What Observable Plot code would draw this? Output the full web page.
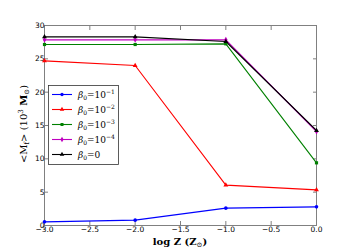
<!DOCTYPE html>
<html><head><meta charset="utf-8">
<script src="https://cdn.jsdelivr.net/npm/d3@7"></script>
<script src="https://cdn.jsdelivr.net/npm/@observablehq/plot@0.6"></script>
<style>body{margin:0;background:#fff}</style>
</head><body><div id="chart"></div>
<script>
const logZ = [-3.0, -2.0, -1.0, 0.0];
const seriesNames = ["β₀=10⁻¹", "β₀=10⁻²", "β₀=10⁻³", "β₀=10⁻⁴", "β₀=0"];
const seriesColors = ["#0000ff", "#ff0000", "#008000", "#bf00bf", "#000000"];
const seriesSymbols = ["circle", "triangle", "square", "diamond", "triangle"];
const beta1 = [0.55, 0.8, 2.6, 2.8];
const beta2 = [24.7, 24.0, 6.05, 5.35];
const beta3 = [27.15, 27.15, 27.25, 9.4];
const beta4 = [27.85, 27.85, 27.85, 14.1];
const beta0 = [28.3, 28.3, 27.6, 14.25];
const xTicks = [-3.0, -2.5, -2.0, -1.5, -1.0, -0.5, 0.0];
const yTicks = [0, 5, 10, 15, 20, 25, 30];

const allSeries = [beta1, beta2, beta3, beta4, beta0];
const data = allSeries.flatMap((vals, i) => vals.map((v, j) => ({x: logZ[j], y: v, s: seriesNames[i]})));

const axisColor = "#808080";
const plot = Plot.plot({
  width: 352, height: 250,
  marginLeft: 44, marginRight: 36, marginTop: 25, marginBottom: 25,
  style: {fontFamily: "DejaVu Sans", fontSize: "7.5px", background: "#fff"},
  x: {domain: [-3, 0], ticks: xTicks},
  y: {domain: [0, 30], ticks: yTicks},
  color: {domain: seriesNames, range: seriesColors},
  symbol: {domain: seriesNames, range: seriesSymbols},
  marks: [
    Plot.frame({stroke: axisColor, strokeWidth: 1}),
    Plot.axisX(xTicks, {anchor: "bottom", tickSize: -4, tickPadding: 5, stroke: axisColor, label: null, fill: "#000", tickFormat: d => d.toFixed(1).replace("-", "−")}),
    Plot.axisX(xTicks, {anchor: "top", tickSize: -4, stroke: axisColor, label: null, tickFormat: () => ""}),
    Plot.axisY(yTicks, {anchor: "left", tickSize: -4, tickPadding: 4, stroke: axisColor, label: null, fill: "#000"}),
    Plot.axisY(yTicks, {anchor: "right", tickSize: -4, stroke: axisColor, label: null, tickFormat: () => ""}),
    Plot.line(data, {x: "x", y: "y", z: "s", stroke: "s", strokeWidth: 1.1}),
    Plot.dot(data, {x: "x", y: "y", fill: "s", stroke: null, symbol: "s", r: 1.8})
  ]
});

const svg = d3.select(plot);
// Legend
const lg = svg.append("g").attr("font-family", "DejaVu Serif").attr("font-size", "9px").attr("text-anchor", "start");
lg.append("rect").attr("x", 48.5).attr("y", 85.5).attr("width", 70).attr("height", 79)
  .attr("fill", "#fff").attr("stroke", "#333").attr("stroke-width", 0.8);
const sym = d3.symbol().size(9);
const shapes = [d3.symbolCircle, d3.symbolTriangle, d3.symbolSquare, d3.symbolDiamond, d3.symbolTriangle];
seriesNames.forEach((name, i) => {
  const yy = 94.5 + i * 15;
  lg.append("line").attr("x1", 52).attr("x2", 72).attr("y1", yy).attr("y2", yy)
    .attr("stroke", seriesColors[i]).attr("stroke-width", 1.1);
  lg.append("path").attr("d", sym.type(shapes[i])()).attr("transform", `translate(62,${yy})`)
    .attr("fill", seriesColors[i]);
  const t = lg.append("text").attr("x", 78).attr("y", yy + 3.5).attr("fill", "#000");
  t.append("tspan").attr("font-style", "italic").text("β");
  t.append("tspan").attr("font-size", "6px").attr("dy", 2).text("0");
  t.append("tspan").attr("dy", -2).text(i === 4 ? "=0" : "=10");
  if (i < 4) t.append("tspan").attr("font-size", "6px").attr("dy", -4).text("−" + (i + 1));
});
// Y label
const yl = svg.append("text").attr("transform", "translate(27,124) rotate(-90)")
  .attr("text-anchor", "middle").attr("font-family", "DejaVu Serif").attr("font-size", "10px").attr("fill", "#000");
yl.append("tspan").text("<M");
yl.append("tspan").attr("font-size", "7px").attr("dy", 2).text("f");
yl.append("tspan").attr("dy", -2).text("> (10");
yl.append("tspan").attr("font-size", "7px").attr("dy", -4).text("3");
yl.append("tspan").attr("dy", 4).attr("font-weight", "bold").text(" M");
yl.append("tspan").attr("font-size", "7px").attr("dy", 2).text("⊙");
yl.append("tspan").attr("dy", -2).text(")");
// X label
const xl = svg.append("text").attr("x", 180).attr("y", 245)
  .attr("text-anchor", "middle").attr("font-family", "DejaVu Serif").attr("font-size", "10px").attr("font-weight", "bold").attr("fill", "#000");
xl.append("tspan").text("log Z (Z");
xl.append("tspan").attr("font-size", "7px").attr("dy", 2).attr("font-weight", "normal").text("⊙");
xl.append("tspan").attr("dy", -2).text(")");

document.getElementById("chart").appendChild(plot);
</script>
</body></html>
